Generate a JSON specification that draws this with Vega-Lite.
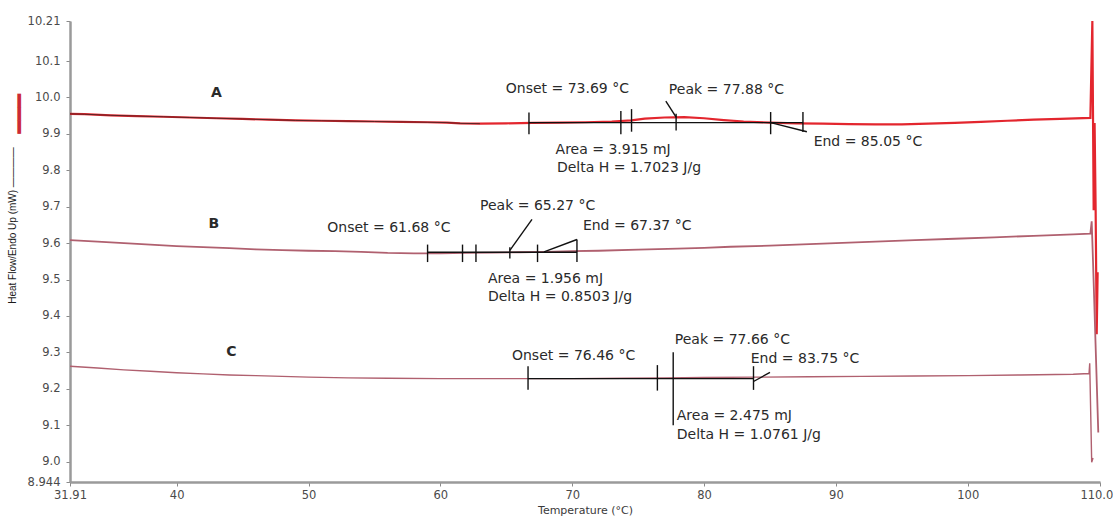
{
  "$schema": "https://vega.github.io/schema/vega-lite/v6.json",
  "width": 1030,
  "height": 461,
  "autosize": {"type": "none"},
  "padding": {"left": 70, "top": 21, "right": 13, "bottom": 38},
  "background": "white",
  "config": {
    "view": {"stroke": null},
    "font": "DejaVu Sans"
  },
  "title": {
    "text": "━━━",
    "orient": "left",
    "anchor": "end",
    "color": "#cc2a35",
    "font": "DejaVu Sans",
    "fontSize": 22,
    "offset": -20,
    "dy": 5,
    "dx": -79
  },
  "datasets": {
    "curves": [
      {"series": "A", "t": 31.91, "hf": 9.955}, {"series": "A", "t": 33, "hf": 9.954}, {"series": "A", "t": 35, "hf": 9.951},
      {"series": "A", "t": 37, "hf": 9.949}, {"series": "A", "t": 39, "hf": 9.947}, {"series": "A", "t": 41, "hf": 9.945},
      {"series": "A", "t": 43, "hf": 9.943}, {"series": "A", "t": 45, "hf": 9.941}, {"series": "A", "t": 47, "hf": 9.939},
      {"series": "A", "t": 49, "hf": 9.937}, {"series": "A", "t": 51, "hf": 9.936}, {"series": "A", "t": 53, "hf": 9.935},
      {"series": "A", "t": 55, "hf": 9.934}, {"series": "A", "t": 57, "hf": 9.933}, {"series": "A", "t": 59, "hf": 9.932},
      {"series": "A", "t": 60.5, "hf": 9.931}, {"series": "A", "t": 61.5, "hf": 9.929}, {"series": "A", "t": 63, "hf": 9.928},
      {"series": "A", "t": 65, "hf": 9.929}, {"series": "A", "t": 67, "hf": 9.93}, {"series": "A", "t": 69, "hf": 9.931},
      {"series": "A", "t": 71, "hf": 9.932}, {"series": "A", "t": 73, "hf": 9.934}, {"series": "A", "t": 74.5, "hf": 9.937},
      {"series": "A", "t": 75.5, "hf": 9.942}, {"series": "A", "t": 77, "hf": 9.945}, {"series": "A", "t": 78.5, "hf": 9.946},
      {"series": "A", "t": 80, "hf": 9.943}, {"series": "A", "t": 81.5, "hf": 9.938}, {"series": "A", "t": 83, "hf": 9.934},
      {"series": "A", "t": 85, "hf": 9.931}, {"series": "A", "t": 87, "hf": 9.929}, {"series": "A", "t": 89, "hf": 9.928},
      {"series": "A", "t": 91, "hf": 9.927}, {"series": "A", "t": 93, "hf": 9.926}, {"series": "A", "t": 95, "hf": 9.926},
      {"series": "A", "t": 97, "hf": 9.928}, {"series": "A", "t": 99, "hf": 9.93}, {"series": "A", "t": 101, "hf": 9.933},
      {"series": "A", "t": 103, "hf": 9.936}, {"series": "A", "t": 105, "hf": 9.939}, {"series": "A", "t": 107, "hf": 9.941},
      {"series": "A", "t": 109.3, "hf": 9.944}, {"series": "A", "t": 109.45, "hf": 10.21}, {"series": "A", "t": 109.55, "hf": 9.69},
      {"series": "A", "t": 109.62, "hf": 9.93}, {"series": "A", "t": 109.7, "hf": 9.69}, {"series": "A", "t": 109.78, "hf": 9.35},
      {"series": "A", "t": 109.85, "hf": 9.52},

      {"series": "B", "t": 31.91, "hf": 9.608}, {"series": "B", "t": 34, "hf": 9.604}, {"series": "B", "t": 36, "hf": 9.6},
      {"series": "B", "t": 38, "hf": 9.596}, {"series": "B", "t": 40, "hf": 9.592}, {"series": "B", "t": 42, "hf": 9.589},
      {"series": "B", "t": 44, "hf": 9.586}, {"series": "B", "t": 46, "hf": 9.583}, {"series": "B", "t": 48, "hf": 9.581},
      {"series": "B", "t": 50, "hf": 9.579}, {"series": "B", "t": 52, "hf": 9.578}, {"series": "B", "t": 54, "hf": 9.576},
      {"series": "B", "t": 56, "hf": 9.573}, {"series": "B", "t": 58, "hf": 9.572}, {"series": "B", "t": 60, "hf": 9.572},
      {"series": "B", "t": 62, "hf": 9.573}, {"series": "B", "t": 64, "hf": 9.574}, {"series": "B", "t": 66, "hf": 9.575},
      {"series": "B", "t": 68, "hf": 9.576}, {"series": "B", "t": 70, "hf": 9.578}, {"series": "B", "t": 72, "hf": 9.579},
      {"series": "B", "t": 75, "hf": 9.582}, {"series": "B", "t": 78, "hf": 9.585}, {"series": "B", "t": 80, "hf": 9.587},
      {"series": "B", "t": 82, "hf": 9.59}, {"series": "B", "t": 85, "hf": 9.593}, {"series": "B", "t": 88, "hf": 9.597},
      {"series": "B", "t": 90, "hf": 9.6}, {"series": "B", "t": 93, "hf": 9.604}, {"series": "B", "t": 96, "hf": 9.608},
      {"series": "B", "t": 99, "hf": 9.612}, {"series": "B", "t": 102, "hf": 9.616}, {"series": "B", "t": 105, "hf": 9.62},
      {"series": "B", "t": 108, "hf": 9.624}, {"series": "B", "t": 109.3, "hf": 9.626}, {"series": "B", "t": 109.4, "hf": 9.66},
      {"series": "B", "t": 109.5, "hf": 9.55}, {"series": "B", "t": 109.9, "hf": 9.08},

      {"series": "C", "t": 31.91, "hf": 9.262}, {"series": "C", "t": 34, "hf": 9.257}, {"series": "C", "t": 36, "hf": 9.252},
      {"series": "C", "t": 38, "hf": 9.248}, {"series": "C", "t": 40, "hf": 9.244}, {"series": "C", "t": 42, "hf": 9.241},
      {"series": "C", "t": 44, "hf": 9.238}, {"series": "C", "t": 46, "hf": 9.236}, {"series": "C", "t": 48, "hf": 9.234},
      {"series": "C", "t": 50, "hf": 9.232}, {"series": "C", "t": 53, "hf": 9.23}, {"series": "C", "t": 56, "hf": 9.229},
      {"series": "C", "t": 60, "hf": 9.228}, {"series": "C", "t": 63, "hf": 9.228}, {"series": "C", "t": 66, "hf": 9.228},
      {"series": "C", "t": 70, "hf": 9.228}, {"series": "C", "t": 74, "hf": 9.229}, {"series": "C", "t": 77, "hf": 9.23},
      {"series": "C", "t": 80, "hf": 9.231}, {"series": "C", "t": 84, "hf": 9.232}, {"series": "C", "t": 88, "hf": 9.233},
      {"series": "C", "t": 92, "hf": 9.234}, {"series": "C", "t": 96, "hf": 9.235}, {"series": "C", "t": 100, "hf": 9.236},
      {"series": "C", "t": 104, "hf": 9.238}, {"series": "C", "t": 108, "hf": 9.24}, {"series": "C", "t": 109.2, "hf": 9.242},
      {"series": "C", "t": 109.25, "hf": 9.27}, {"series": "C", "t": 109.4, "hf": 8.998}, {"series": "C", "t": 109.5, "hf": 9.01}
    ],
    "overlay": [
      {"t": 31.91, "hf": 9.955}, {"t": 33, "hf": 9.954}, {"t": 35, "hf": 9.951}, {"t": 37, "hf": 9.949},
      {"t": 39, "hf": 9.947}, {"t": 41, "hf": 9.945}, {"t": 43, "hf": 9.943}, {"t": 45, "hf": 9.941},
      {"t": 47, "hf": 9.939}, {"t": 49, "hf": 9.937}, {"t": 51, "hf": 9.936}, {"t": 53, "hf": 9.935},
      {"t": 55, "hf": 9.934}, {"t": 57, "hf": 9.933}, {"t": 59, "hf": 9.932}, {"t": 60.5, "hf": 9.931},
      {"t": 61.5, "hf": 9.929}, {"t": 63, "hf": 9.928}
    ],
    "segments": [
      {"t": 66.72, "t2": 87.5, "hf": 9.931, "hf2": 9.931},
      {"t": 66.72, "t2": 66.72, "hf": 9.899, "hf2": 9.959},
      {"t": 73.69, "t2": 73.69, "hf": 9.899, "hf2": 9.963},
      {"t": 74.5, "t2": 74.5, "hf": 9.906, "hf2": 9.968},
      {"t": 77.88, "t2": 77.88, "hf": 9.909, "hf2": 9.955},
      {"t": 85.05, "t2": 85.05, "hf": 9.899, "hf2": 9.96},
      {"t": 87.5, "t2": 87.5, "hf": 9.905, "hf2": 9.96},
      {"t": 77.1, "t2": 77.88, "hf": 9.99, "hf2": 9.946},
      {"t": 85.05, "t2": 87.8, "hf": 9.931, "hf2": 9.906},

      {"t": 59.03, "t2": 70.36, "hf": 9.575, "hf2": 9.575},
      {"t": 59.03, "t2": 59.03, "hf": 9.548, "hf2": 9.596},
      {"t": 61.68, "t2": 61.68, "hf": 9.548, "hf2": 9.596},
      {"t": 62.7, "t2": 62.7, "hf": 9.548, "hf2": 9.596},
      {"t": 65.27, "t2": 65.27, "hf": 9.558, "hf2": 9.589},
      {"t": 67.37, "t2": 67.37, "hf": 9.548, "hf2": 9.596},
      {"t": 70.36, "t2": 70.36, "hf": 9.548, "hf2": 9.61},
      {"t": 65.27, "t2": 66.95, "hf": 9.58, "hf2": 9.665},
      {"t": 67.86, "t2": 70.36, "hf": 9.576, "hf2": 9.61},

      {"t": 66.65, "t2": 83.75, "hf": 9.228, "hf2": 9.228},
      {"t": 66.65, "t2": 66.65, "hf": 9.197, "hf2": 9.262},
      {"t": 76.46, "t2": 76.46, "hf": 9.195, "hf2": 9.265},
      {"t": 77.66, "t2": 77.66, "hf": 9.1, "hf2": 9.3},
      {"t": 83.75, "t2": 83.75, "hf": 9.197, "hf2": 9.262},
      {"t": 83.75, "t2": 85.0, "hf": 9.22, "hf2": 9.245}
    ],
    "tags": [
      {"t": 42.61, "hf": 10.011, "label": "A"},
      {"t": 42.41, "hf": 9.652, "label": "B"},
      {"t": 43.77, "hf": 9.3, "label": "C"}
    ],
    "notes": [
      {"t": 64.96, "hf": 10.024, "label": "Onset = 73.69 °C"},
      {"t": 77.33, "hf": 10.02, "label": "Peak = 77.88 °C"},
      {"t": 68.74, "hf": 9.855, "label": "Area = 3.915 mJ"},
      {"t": 68.84, "hf": 9.805, "label": "Delta H = 1.7023 J/g"},
      {"t": 88.31, "hf": 9.878, "label": "End = 85.05 °C"},

      {"t": 51.42, "hf": 9.642, "label": "Onset = 61.68 °C"},
      {"t": 63.01, "hf": 9.701, "label": "Peak = 65.27 °C"},
      {"t": 70.81, "hf": 9.646, "label": "End = 67.37 °C"},
      {"t": 63.61, "hf": 9.501, "label": "Area = 1.956 mJ"},
      {"t": 63.61, "hf": 9.4525, "label": "Delta H = 0.8503 J/g"},

      {"t": 65.43, "hf": 9.289, "label": "Onset = 76.46 °C"},
      {"t": 77.78, "hf": 9.333, "label": "Peak = 77.66 °C"},
      {"t": 83.54, "hf": 9.281, "label": "End = 83.75 °C"},
      {"t": 77.93, "hf": 9.124, "label": "Area = 2.475 mJ"},
      {"t": 77.93, "hf": 9.072, "label": "Delta H = 1.0761 J/g"}
    ]
  },
  "encoding": {
    "x": {
      "field": "t",
      "type": "quantitative",
      "scale": {"domain": [31.91, 110.03], "nice": false, "zero": false},
      "axis": {
        "title": "Temperature (°C)",
        "values": [31.91, 40, 50, 60, 70, 80, 90, 100, 110.03],
        "labelExpr": "datum.value < 32 ? '31.91' : datum.value > 110 ? '110.03' : format(datum.value, 'd')",
        "labelFlush": false,
        "labelOverlap": false,
        "grid": false,
        "domainColor": "#9a9a9a",
        "domainWidth": 2.5,
        "tickColor": "#8a8a8a",
        "tickSize": 4,
        "tickWidth": 1,
        "labelFont": "DejaVu Sans",
        "labelFontSize": 11.5,
        "labelColor": "#4a4a4a",
        "labelPadding": 3,
        "titleFont": "DejaVu Sans",
        "titleFontSize": 11,
        "titleFontWeight": "normal",
        "titleColor": "#3a3a3a",
        "titlePadding": 4
      }
    },
    "y": {
      "field": "hf",
      "type": "quantitative",
      "scale": {"domain": [8.944, 10.21], "nice": false, "zero": false},
      "axis": {
        "title": "Heat Flow/Endo Up (mW)  ————",
        "values": [8.944, 9.0, 9.1, 9.2, 9.3, 9.4, 9.5, 9.6, 9.7, 9.8, 9.9, 10.0, 10.1, 10.21],
        "labelExpr": "datum.value < 8.95 ? '8.944' : datum.value > 10.2 ? '10.21' : format(datum.value, '.1f')",
        "labelOverlap": false,
        "grid": false,
        "domainColor": "#9a9a9a",
        "domainWidth": 2.5,
        "tickColor": "#8a8a8a",
        "tickSize": 4,
        "tickWidth": 1,
        "labelFont": "DejaVu Sans",
        "labelFontSize": 11.5,
        "labelColor": "#4a4a4a",
        "labelPadding": 6,
        "titleFont": "Liberation Sans",
        "titleFontSize": 10,
        "titleFontWeight": "normal",
        "titleColor": "#1a1a1a",
        "titleX": -53,
        "titleY": 204
      }
    }
  },
  "layer": [
    {
      "data": {"name": "curves"},
      "mark": {"type": "line", "clip": true, "interpolate": "linear"},
      "encoding": {
        "detail": {"field": "series"},
        "color": {
          "field": "series",
          "type": "nominal",
          "scale": {"domain": ["A", "B", "C"], "range": ["#e3262e", "#b0606f", "#b0606f"]},
          "legend": null
        },
        "strokeWidth": {
          "field": "series",
          "type": "nominal",
          "scale": {"domain": ["A", "B", "C"], "range": [2.2, 1.4, 1.4]},
          "legend": null
        }
      }
    },
    {
      "data": {"name": "overlay"},
      "mark": {"type": "line", "color": "#3a2020", "strokeWidth": 1, "opacity": 0.8, "clip": true}
    },
    {
      "data": {"name": "segments"},
      "mark": {"type": "rule", "color": "#111111", "strokeWidth": 1.4},
      "encoding": {
        "x2": {"field": "t2"},
        "y2": {"field": "hf2"}
      }
    },
    {
      "data": {"name": "tags"},
      "mark": {"type": "text", "align": "left", "baseline": "middle", "font": "DejaVu Sans", "fontSize": 14, "fontWeight": "bold", "color": "#2a2a2a"},
      "encoding": {"text": {"field": "label"}}
    },
    {
      "data": {"name": "notes"},
      "mark": {"type": "text", "align": "left", "baseline": "middle", "font": "DejaVu Sans", "fontSize": 14, "color": "#2a2a2a"},
      "encoding": {"text": {"field": "label"}}
    }
  ]
}
